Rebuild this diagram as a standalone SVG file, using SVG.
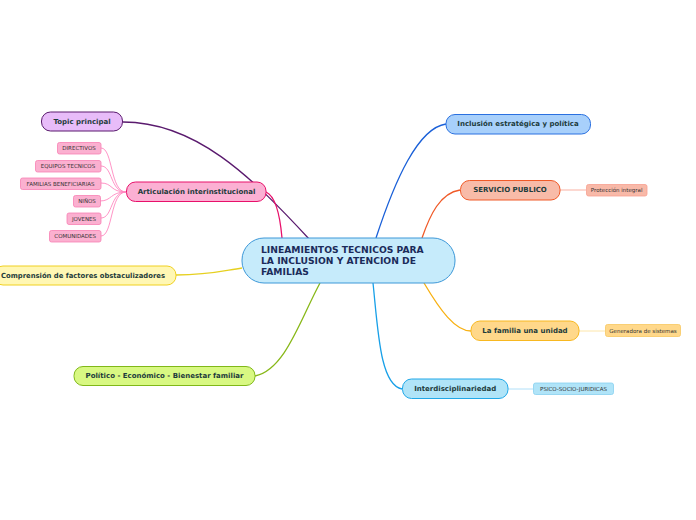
<svg xmlns="http://www.w3.org/2000/svg" width="696" height="520" viewBox="0 0 696 520">
<style>
.t{font-family:"DejaVu Sans",Verdana,sans-serif;font-weight:bold;font-size:7px;fill:#1d3b3b;text-anchor:middle;dominant-baseline:central}
.c{font-family:"DejaVu Sans",Verdana,sans-serif;font-weight:bold;font-size:9.2px;fill:#1b2b5a}
.s{font-family:"DejaVu Sans",Verdana,sans-serif;font-size:5.5px;fill:#333;text-anchor:middle;dominant-baseline:central}
.cn{fill:none;stroke-width:1.3}
.sc{fill:none;stroke-width:0.9}
</style>
<rect width="696" height="520" fill="#fff"/>
<g id="connectors">
<path class="cn" stroke="#5a1a6e" d="M123,122 C195,122 250,175 310,240"/>
<path class="cn" stroke="#e8106a" d="M266,192 C275,196 280,215 282,238"/>
<path class="cn" stroke="#e6d020" d="M176,275 C210,275 222,271 242,268"/>
<path class="cn" stroke="#88b818" d="M255,376 C285,370 300,320 320,283"/>
<path class="cn" stroke="#1a60d8" d="M446,124 C418,128 395,180 376,238"/>
<path class="cn" stroke="#f05a28" d="M460,190 C440,193 430,215 422,238"/>
<path class="cn" stroke="#f8b010" d="M471,331 C455,331 440,310 424,283"/>
<path class="cn" stroke="#18a0e8" d="M402,389 C380,385 378,330 373,283"/>
<path class="sc" stroke="#ff88c0" d="M126,192 C110,192 113,148 101,148"/>
<path class="sc" stroke="#ff88c0" d="M126,192 C110,192 113,166 101,166"/>
<path class="sc" stroke="#ff88c0" d="M126,192 C110,192 113,183 101,183"/>
<path class="sc" stroke="#ff88c0" d="M126,192 C110,192 112,201 100,201"/>
<path class="sc" stroke="#ff88c0" d="M126,192 C110,192 113,218 101,218"/>
<path class="sc" stroke="#ff88c0" d="M126,192 C110,192 113,236 101,236"/>
<path class="sc" stroke="#f8a898" d="M560,190 L586,190"/>
<path class="sc" stroke="#fde3a0" d="M579,331 L605,331"/>
<path class="sc" stroke="#a8dcf8" d="M508,389 L533,389"/>
</g>
<g id="central">
<rect x="242" y="238" width="213" height="45" rx="22" fill="#c6ebfb" stroke="#3d98d8" stroke-width="1"/>
<text class="c" x="261" y="253">LINEAMIENTOS TECNICOS PARA</text>
<text class="c" x="261" y="264">LA INCLUSION Y ATENCION DE</text>
<text class="c" x="261" y="275">FAMILIAS</text>
</g>
<g id="topic-principal">
<rect x="41.5" y="112" width="81" height="19" rx="9" fill="#e8bcf9" stroke="#5a1a6e"/>
<text class="t" x="82" y="121.5">Topic principal</text>
</g>
<g id="articulacion">
<rect x="126.5" y="182" width="139.5" height="19.5" rx="9" fill="#fbb0d3" stroke="#e8106a"/>
<text class="t" x="196.5" y="192">Articulación interinstitucional</text>
</g>
<g id="directivos"><rect x="57.5" y="142.5" width="43.5" height="11.5" rx="2" fill="#fbb0d0" stroke="#f880b4" stroke-width="0.8"/><text class="s" x="79" y="148.3">DIRECTIVOS</text></g>
<g id="equipos"><rect x="35.5" y="160.5" width="65.5" height="11.5" rx="2" fill="#fbb0d0" stroke="#f880b4" stroke-width="0.8"/><text class="s" x="68" y="166.3">EQUIPOS TECNICOS</text></g>
<g id="familias"><rect x="20.5" y="178" width="80.5" height="11.5" rx="2" fill="#fbb0d0" stroke="#f880b4" stroke-width="0.8"/><text class="s" x="60.5" y="183.8">FAMILIAS BENEFICIARIAS</text></g>
<g id="ninos"><rect x="73.5" y="195.5" width="27" height="11.5" rx="2" fill="#fbb0d0" stroke="#f880b4" stroke-width="0.8"/><text class="s" x="87" y="201.3">NIÑOS</text></g>
<g id="jovenes"><rect x="67" y="213" width="34" height="11.5" rx="2" fill="#fbb0d0" stroke="#f880b4" stroke-width="0.8"/><text class="s" x="84" y="218.8">JOVENES</text></g>
<g id="comunidades"><rect x="49.5" y="230.5" width="51.5" height="11.5" rx="2" fill="#fbb0d0" stroke="#f880b4" stroke-width="0.8"/><text class="s" x="75.2" y="236.3">COMUNIDADES</text></g>
<g id="comprension">
<rect x="-6" y="266" width="182" height="19" rx="9" fill="#fff7b4" stroke="#f0d020"/>
<text class="t" x="83" y="275.5" textLength="164" lengthAdjust="spacingAndGlyphs">Comprensión de factores obstaculizadores</text>
</g>
<g id="politico">
<rect x="74" y="366.5" width="181" height="19" rx="9" fill="#d8f882" stroke="#80b818"/>
<text class="t" x="164.5" y="376">Político - Económico - Bienestar familiar</text>
</g>
<g id="inclusion">
<rect x="446" y="114.5" width="144.5" height="19.5" rx="9" fill="#a8d0fb" stroke="#2a70e0"/>
<text class="t" x="518" y="124.3">Inclusión estratégica y política</text>
</g>
<g id="servicio">
<rect x="460.5" y="180.5" width="99.5" height="19.5" rx="9" fill="#f8bba8" stroke="#f05a28"/>
<text class="t" x="510" y="190.3">SERVICIO PUBLICO</text>
</g>
<g id="proteccion"><rect x="586.5" y="184.5" width="60.5" height="11.5" rx="2" fill="#f8b9a8" stroke="#f8a090" stroke-width="0.8"/><text class="s" x="616.7" y="190.3">Protección integral</text></g>
<g id="familia-unidad">
<rect x="471" y="321" width="108" height="19.5" rx="9" fill="#ffd88a" stroke="#f8b820"/>
<text class="t" x="525" y="330.8">La familia una unidad</text>
</g>
<g id="generadora"><rect x="605.5" y="324.5" width="75" height="12" rx="2" fill="#ffd88a" stroke="#f8c860" stroke-width="0.8"/><text class="s" x="643" y="330.5">Generadora de sistemas</text></g>
<g id="interdisciplinariedad">
<rect x="402.5" y="379" width="105.5" height="19.5" rx="9" fill="#b0e4f8" stroke="#20a8e8"/>
<text class="t" x="455.2" y="388.8">Interdisciplinariedad</text>
</g>
<g id="psico"><rect x="533.5" y="383" width="80" height="11.5" rx="2" fill="#b0e4f8" stroke="#88d0f0" stroke-width="0.8"/><text class="s" x="573.5" y="388.8">PSICO-SOCIO-JURIDICAS</text></g>
</svg>
